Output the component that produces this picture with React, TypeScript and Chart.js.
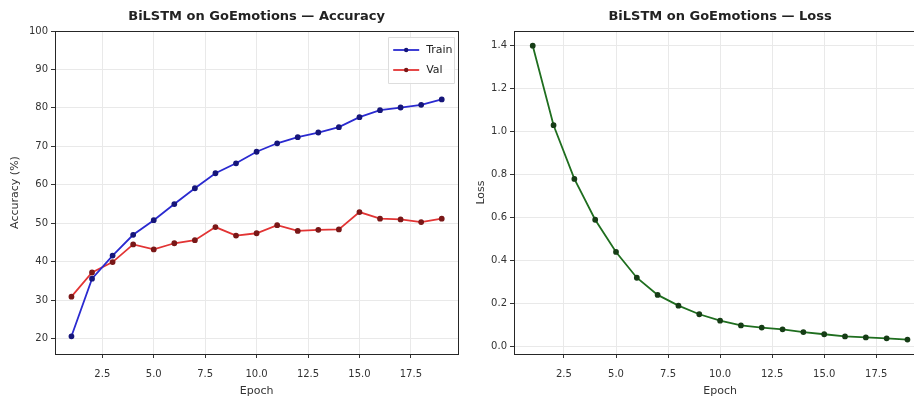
import React, { useEffect, useRef } from "react";
import { Chart, registerables } from "chart.js";

Chart.register(...registerables);

const epochs = [1, 2, 3, 4, 5, 6, 7, 8, 9, 10, 11, 12, 13, 14, 15, 16, 17, 18, 19];
const trainAcc = [20.6, 35.6, 41.6, 47.0, 50.8, 55.0, 59.1, 63.0, 65.6, 68.6, 70.8, 72.4, 73.6, 75.0, 77.6, 79.4, 80.1, 80.8, 82.2];
const valAcc = [30.9, 37.2, 39.9, 44.5, 43.2, 44.8, 45.6, 49.0, 46.8, 47.4, 49.5, 48.0, 48.3, 48.4, 52.9, 51.2, 51.0, 50.3, 51.2];
const trainLoss = [1.4, 1.03, 0.78, 0.59, 0.44, 0.32, 0.24, 0.19, 0.15, 0.12, 0.098, 0.088, 0.08, 0.067, 0.057, 0.047, 0.042, 0.038, 0.032];
const xTicks = [2.5, 5, 7.5, 10, 12.5, 15, 17.5];
const accTicks = [20, 30, 40, 50, 60, 70, 80, 90, 100];
const lossTicks = [0, 0.2, 0.4, 0.6, 0.8, 1.0, 1.2, 1.4];

const FONT = "'DejaVu Sans', sans-serif";

const boxPlugin = {
  id: "boxPlugin",
  afterDraw(chart: any) {
    const { ctx, chartArea: a } = chart;
    ctx.save();
    ctx.strokeStyle = "#262626";
    ctx.lineWidth = 1;
    ctx.strokeRect(Math.round(a.left) + 0.5, Math.round(a.top) + 0.5, Math.round(a.right - a.left), Math.round(a.bottom - a.top));
    ctx.restore();
  },
};

const innerLegend = {
  id: "innerLegend",
  afterDraw(chart: any, _args: any, opts: any) {
    if (!opts || !opts.show) return;
    const { ctx, chartArea: a } = chart;
    const w = 66, h = 46;
    const x0 = a.right - w - 4;
    const y0 = a.top + 6;
    ctx.save();
    ctx.fillStyle = "rgba(255,255,255,0.85)";
    ctx.strokeStyle = "#dddddd";
    ctx.lineWidth = 1;
    ctx.beginPath();
    ctx.rect(Math.round(x0) + 0.5, Math.round(y0) + 0.5, w, h);
    ctx.fill();
    ctx.stroke();
    chart.data.datasets.forEach((ds: any, i: number) => {
      const y = y0 + 13 + i * 20;
      ctx.strokeStyle = ds.borderColor;
      ctx.lineWidth = 1.8;
      ctx.beginPath();
      ctx.moveTo(x0 + 5, y);
      ctx.lineTo(x0 + 31, y);
      ctx.stroke();
      ctx.fillStyle = ds.pointBackgroundColor;
      ctx.beginPath();
      ctx.arc(x0 + 18, y, 2.2, 0, Math.PI * 2);
      ctx.fill();
      ctx.fillStyle = "#222";
      ctx.font = `11px ${FONT}`;
      ctx.textBaseline = "middle";
      ctx.fillText(ds.label, x0 + 38, y);
    });
    ctx.restore();
  },
};

function makeOptions(opts: {
  title: string;
  yTitle: string;
  yMin: number;
  yMax: number;
  yTicks: number[];
  yWidth: number;
  yTitlePad: number;
  xMin: number;
  xMax: number;
  rightPad: number;
  legend: boolean;
}): any {
  return {
    animation: false,
    responsive: false,
    maintainAspectRatio: false,
    layout: { padding: { left: 0, right: opts.rightPad, top: 0, bottom: 0 } },
    plugins: {
      legend: { display: false },
      tooltip: { enabled: false },
      title: {
        display: true,
        fullSize: false,
        text: opts.title,
        color: "#222",
        font: { family: FONT, size: 13, weight: "bold", lineHeight: 1.2 },
        padding: { top: 9, bottom: 6.4 },
      },
      innerLegend: { show: opts.legend },
    },
    scales: {
      x: {
        type: "linear",
        min: opts.xMin,
        max: opts.xMax,
        afterBuildTicks: (s: any) => {
          s.ticks = xTicks.map((v) => ({ value: v }));
        },
        afterFit: (s: any) => {
          s.height = 51;
        },
        ticks: {
          color: "#333",
          font: { family: FONT, size: 10 },
          padding: 10,
          maxRotation: 0,
          autoSkip: false,
          callback: (v: any) => Number(v).toFixed(1),
        },
        grid: { color: "#e9e9e9", lineWidth: 1, drawTicks: true, tickLength: 4, tickColor: "#333" },
        border: { display: false },
        title: {
          display: true,
          text: "Epoch",
          color: "#333",
          font: { family: FONT, size: 11, lineHeight: 1.2 },
          padding: { top: 0, bottom: 7 },
        },
      },
      y: {
        type: "linear",
        min: opts.yMin,
        max: opts.yMax,
        afterBuildTicks: (s: any) => {
          s.ticks = opts.yTicks.map((v) => ({ value: v }));
        },
        afterFit: (s: any) => {
          s.width = opts.yWidth;
        },
        ticks: {
          color: "#333",
          font: { family: FONT, size: 10 },
          padding: 3,
          autoSkip: false,
          callback: (v: any) => (opts.yMax > 10 ? String(Math.round(Number(v))) : Number(v).toFixed(1)),
        },
        grid: { color: "#e9e9e9", lineWidth: 1, drawTicks: true, tickLength: 4, tickColor: "#333" },
        border: { display: false },
        title: {
          display: true,
          text: opts.yTitle,
          color: "#333",
          font: { family: FONT, size: 11, lineHeight: 1.2 },
          padding: { top: opts.yTitlePad, bottom: 0 },
        },
      },
    },
  };
}

function ChartCanvas(props: { width: number; height: number; config: () => any }) {
  const ref = useRef<HTMLCanvasElement | null>(null);
  useEffect(() => {
    if (!ref.current) return;
    const chart = new Chart(ref.current, props.config());
    return () => chart.destroy();
  }, []);
  return <canvas ref={ref} width={props.width} height={props.height} style={{ width: props.width, height: props.height, display: "block" }} />;
}

export default function App() {
  const accConfig = () => ({
    type: "line",
    data: {
      datasets: [
        {
          label: "Train",
          data: epochs.map((e, i) => ({ x: e, y: trainAcc[i] })),
          borderColor: "#2a2ad0",
          backgroundColor: "#2a2ad0",
          pointBackgroundColor: "#16167a",
          pointBorderColor: "#16167a",
          pointRadius: 2,
          borderWidth: 1.8,
          tension: 0,
        },
        {
          label: "Val",
          data: epochs.map((e, i) => ({ x: e, y: valAcc[i] })),
          borderColor: "#e23434",
          backgroundColor: "#e23434",
          pointBackgroundColor: "#7a1818",
          pointBorderColor: "#7a1818",
          pointRadius: 2,
          borderWidth: 1.8,
          tension: 0,
        },
      ],
    },
    options: makeOptions({
      title: "BiLSTM on GoEmotions — Accuracy",
      yTitle: "Accuracy (%)",
      yMin: 16,
      yMax: 100,
      yTicks: accTicks,
      yWidth: 55,
      yTitlePad: 8.5,
      xMin: 0.2,
      xMax: 19.8,
      rightPad: 1,
      legend: true,
    }),
    plugins: [boxPlugin, innerLegend],
  });

  const lossConfig = () => ({
    type: "line",
    data: {
      datasets: [
        {
          label: "Loss",
          data: epochs.map((e, i) => ({ x: e, y: trainLoss[i] })),
          borderColor: "#1f6e1f",
          backgroundColor: "#1f6e1f",
          pointBackgroundColor: "#163d16",
          pointBorderColor: "#163d16",
          pointRadius: 2,
          borderWidth: 1.8,
          tension: 0,
        },
      ],
    },
    options: makeOptions({
      title: "BiLSTM on GoEmotions — Loss",
      yTitle: "Loss",
      yMin: -0.035,
      yMax: 1.4685,
      yTicks: lossTicks,
      yWidth: 57,
      yTitlePad: 18,
      xMin: 0.1,
      xMax: 19.9,
      rightPad: 2,
      legend: false,
    }),
    plugins: [boxPlugin, innerLegend],
  });

  return (
    <div style={{ position: "absolute", left: 0, top: 0, width: 914, height: 405, overflow: "hidden", background: "#fff" }}>
      <div style={{ position: "absolute", left: 0, top: 0 }}>
        <ChartCanvas width={464} height={405} config={accConfig} />
      </div>
      <div style={{ position: "absolute", left: 457, top: 0 }}>
        <ChartCanvas width={475} height={405} config={lossConfig} />
      </div>
    </div>
  );
}
